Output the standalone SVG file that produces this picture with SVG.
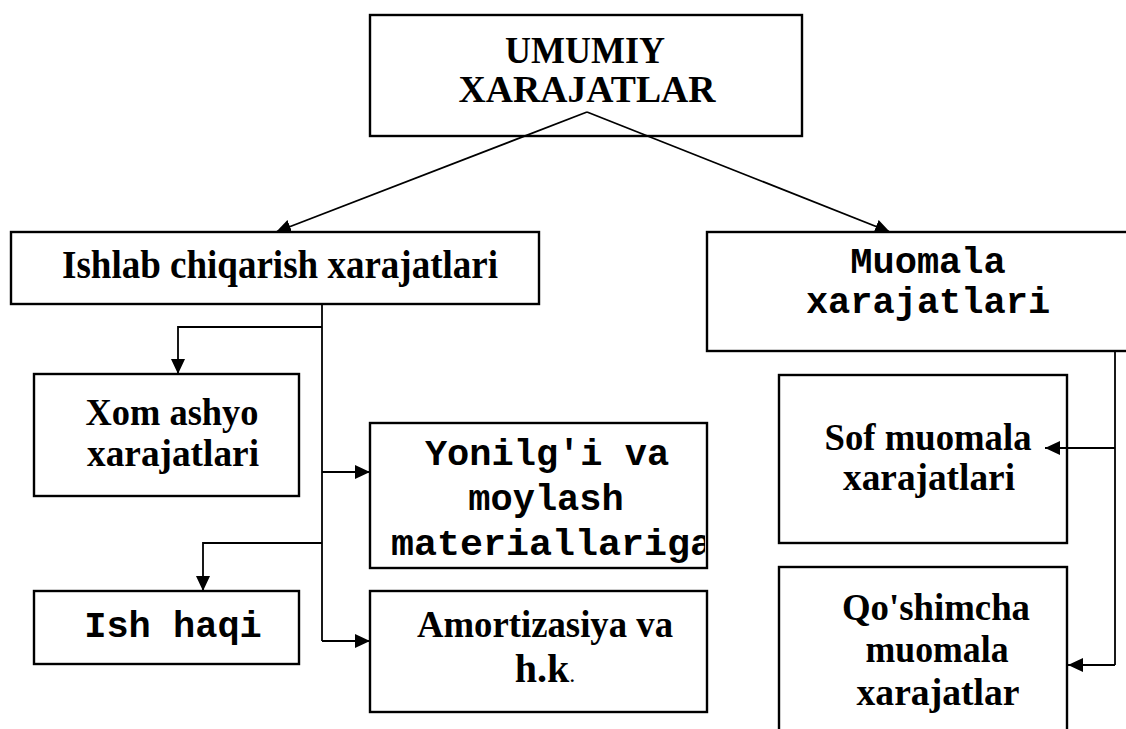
<svg xmlns="http://www.w3.org/2000/svg" width="1126" height="729" viewBox="0 0 1126 729">
<style>
.box{fill:#fff;stroke:#000;stroke-width:2.4}
.serif{font-family:"Liberation Serif","Times New Roman",serif;font-weight:bold;font-size:38px;fill:#000;text-anchor:middle}
.mono{font-family:"Liberation Mono","Courier New",monospace;font-weight:bold;font-size:37px;fill:#000;text-anchor:middle}
.con{fill:none;stroke:#000;stroke-width:1.8}
</style>
<defs>
<marker id="ah" markerUnits="userSpaceOnUse" markerWidth="16" markerHeight="14" refX="15" refY="7" orient="auto">
<path d="M0,0 L15,7 L0,14 z" fill="#000"/>
</marker>
<clipPath id="clipY"><rect x="371" y="424" width="334" height="142"/></clipPath>
</defs>
<rect width="1126" height="729" fill="#fff"/>

<g id="umumiy">
<rect class="box" x="370" y="15" width="432" height="121"/>
<text class="serif" x="585" y="63" textLength="160" lengthAdjust="spacingAndGlyphs">UMUMIY</text>
<text class="serif" x="587" y="102" textLength="257" lengthAdjust="spacingAndGlyphs">XARAJATLAR</text>
</g>

<g id="ishlab">
<rect class="box" x="11" y="232" width="528" height="72"/>
<text class="serif" x="280" y="278" style="font-size:40px" textLength="436" lengthAdjust="spacingAndGlyphs">Ishlab chiqarish xarajatlari</text>
</g>

<g id="muomala">
<rect class="box" x="707" y="232" width="440" height="119"/>
<text class="mono" x="928" y="273">Muomala</text>
<text class="mono" x="928" y="313">xarajatlari</text>
</g>

<g id="xom">
<rect class="box" x="34" y="374" width="265" height="122"/>
<text class="serif" x="172" y="425" textLength="173" lengthAdjust="spacingAndGlyphs">Xom ashyo</text>
<text class="serif" x="173" y="466" textLength="172" lengthAdjust="spacingAndGlyphs">xarajatlari</text>
</g>

<g id="yonilgi">
<rect class="box" x="370" y="423" width="337" height="145"/>
<text class="mono" x="547" y="465">Yonilg'i va</text>
<text class="mono" x="546" y="510">moylash</text>
<text class="mono" x="391" y="555" style="text-anchor:start" textLength="322" lengthAdjust="spacingAndGlyphs" clip-path="url(#clipY)">materiallariga</text>
</g>

<g id="ishhaqi">
<rect class="box" x="34" y="591" width="265" height="73"/>
<text class="mono" x="173" y="637">Ish haqi</text>
</g>

<g id="amortizasiya">
<rect class="box" x="370" y="591" width="337" height="121"/>
<text class="serif" x="545" y="637" textLength="256" lengthAdjust="spacingAndGlyphs">Amortizasiya va</text>
<text class="serif" x="545" y="682" style="font-size:40px">h.k<tspan style="font-weight:normal;font-size:24px">.</tspan></text>
</g>

<g id="sof">
<rect class="box" x="779" y="375" width="288" height="168"/>
<text class="serif" x="928" y="450" textLength="207" lengthAdjust="spacingAndGlyphs">Sof muomala</text>
<text class="serif" x="929" y="490" textLength="172" lengthAdjust="spacingAndGlyphs">xarajatlari</text>
</g>

<g id="qoshimcha">
<rect class="box" x="779" y="567" width="288" height="200"/>
<text class="serif" x="936" y="620" textLength="188" lengthAdjust="spacingAndGlyphs">Qo'shimcha</text>
<text class="serif" x="937" y="662" textLength="143" lengthAdjust="spacingAndGlyphs">muomala</text>
<text class="serif" x="938" y="705" textLength="163" lengthAdjust="spacingAndGlyphs">xarajatlar</text>
</g>

<g id="connectors">
<line class="con" x1="587" y1="112" x2="276" y2="232" marker-end="url(#ah)"/>
<line class="con" x1="587" y1="112" x2="890" y2="232" marker-end="url(#ah)"/>
<line class="con" x1="322" y1="304" x2="322" y2="641"/>
<polyline class="con" points="322,327 178,327 178,374" marker-end="url(#ah)"/>
<polyline class="con" points="322,472 370,472" marker-end="url(#ah)"/>
<polyline class="con" points="322,543 203,543 203,591" marker-end="url(#ah)"/>
<polyline class="con" points="322,641 370,641" marker-end="url(#ah)"/>
<line class="con" x1="1115" y1="351" x2="1115" y2="665"/>
<polyline class="con" points="1115,448 1045,448" marker-end="url(#ah)"/>
<polyline class="con" points="1115,665 1068,665" marker-end="url(#ah)"/>
</g>
</svg>
